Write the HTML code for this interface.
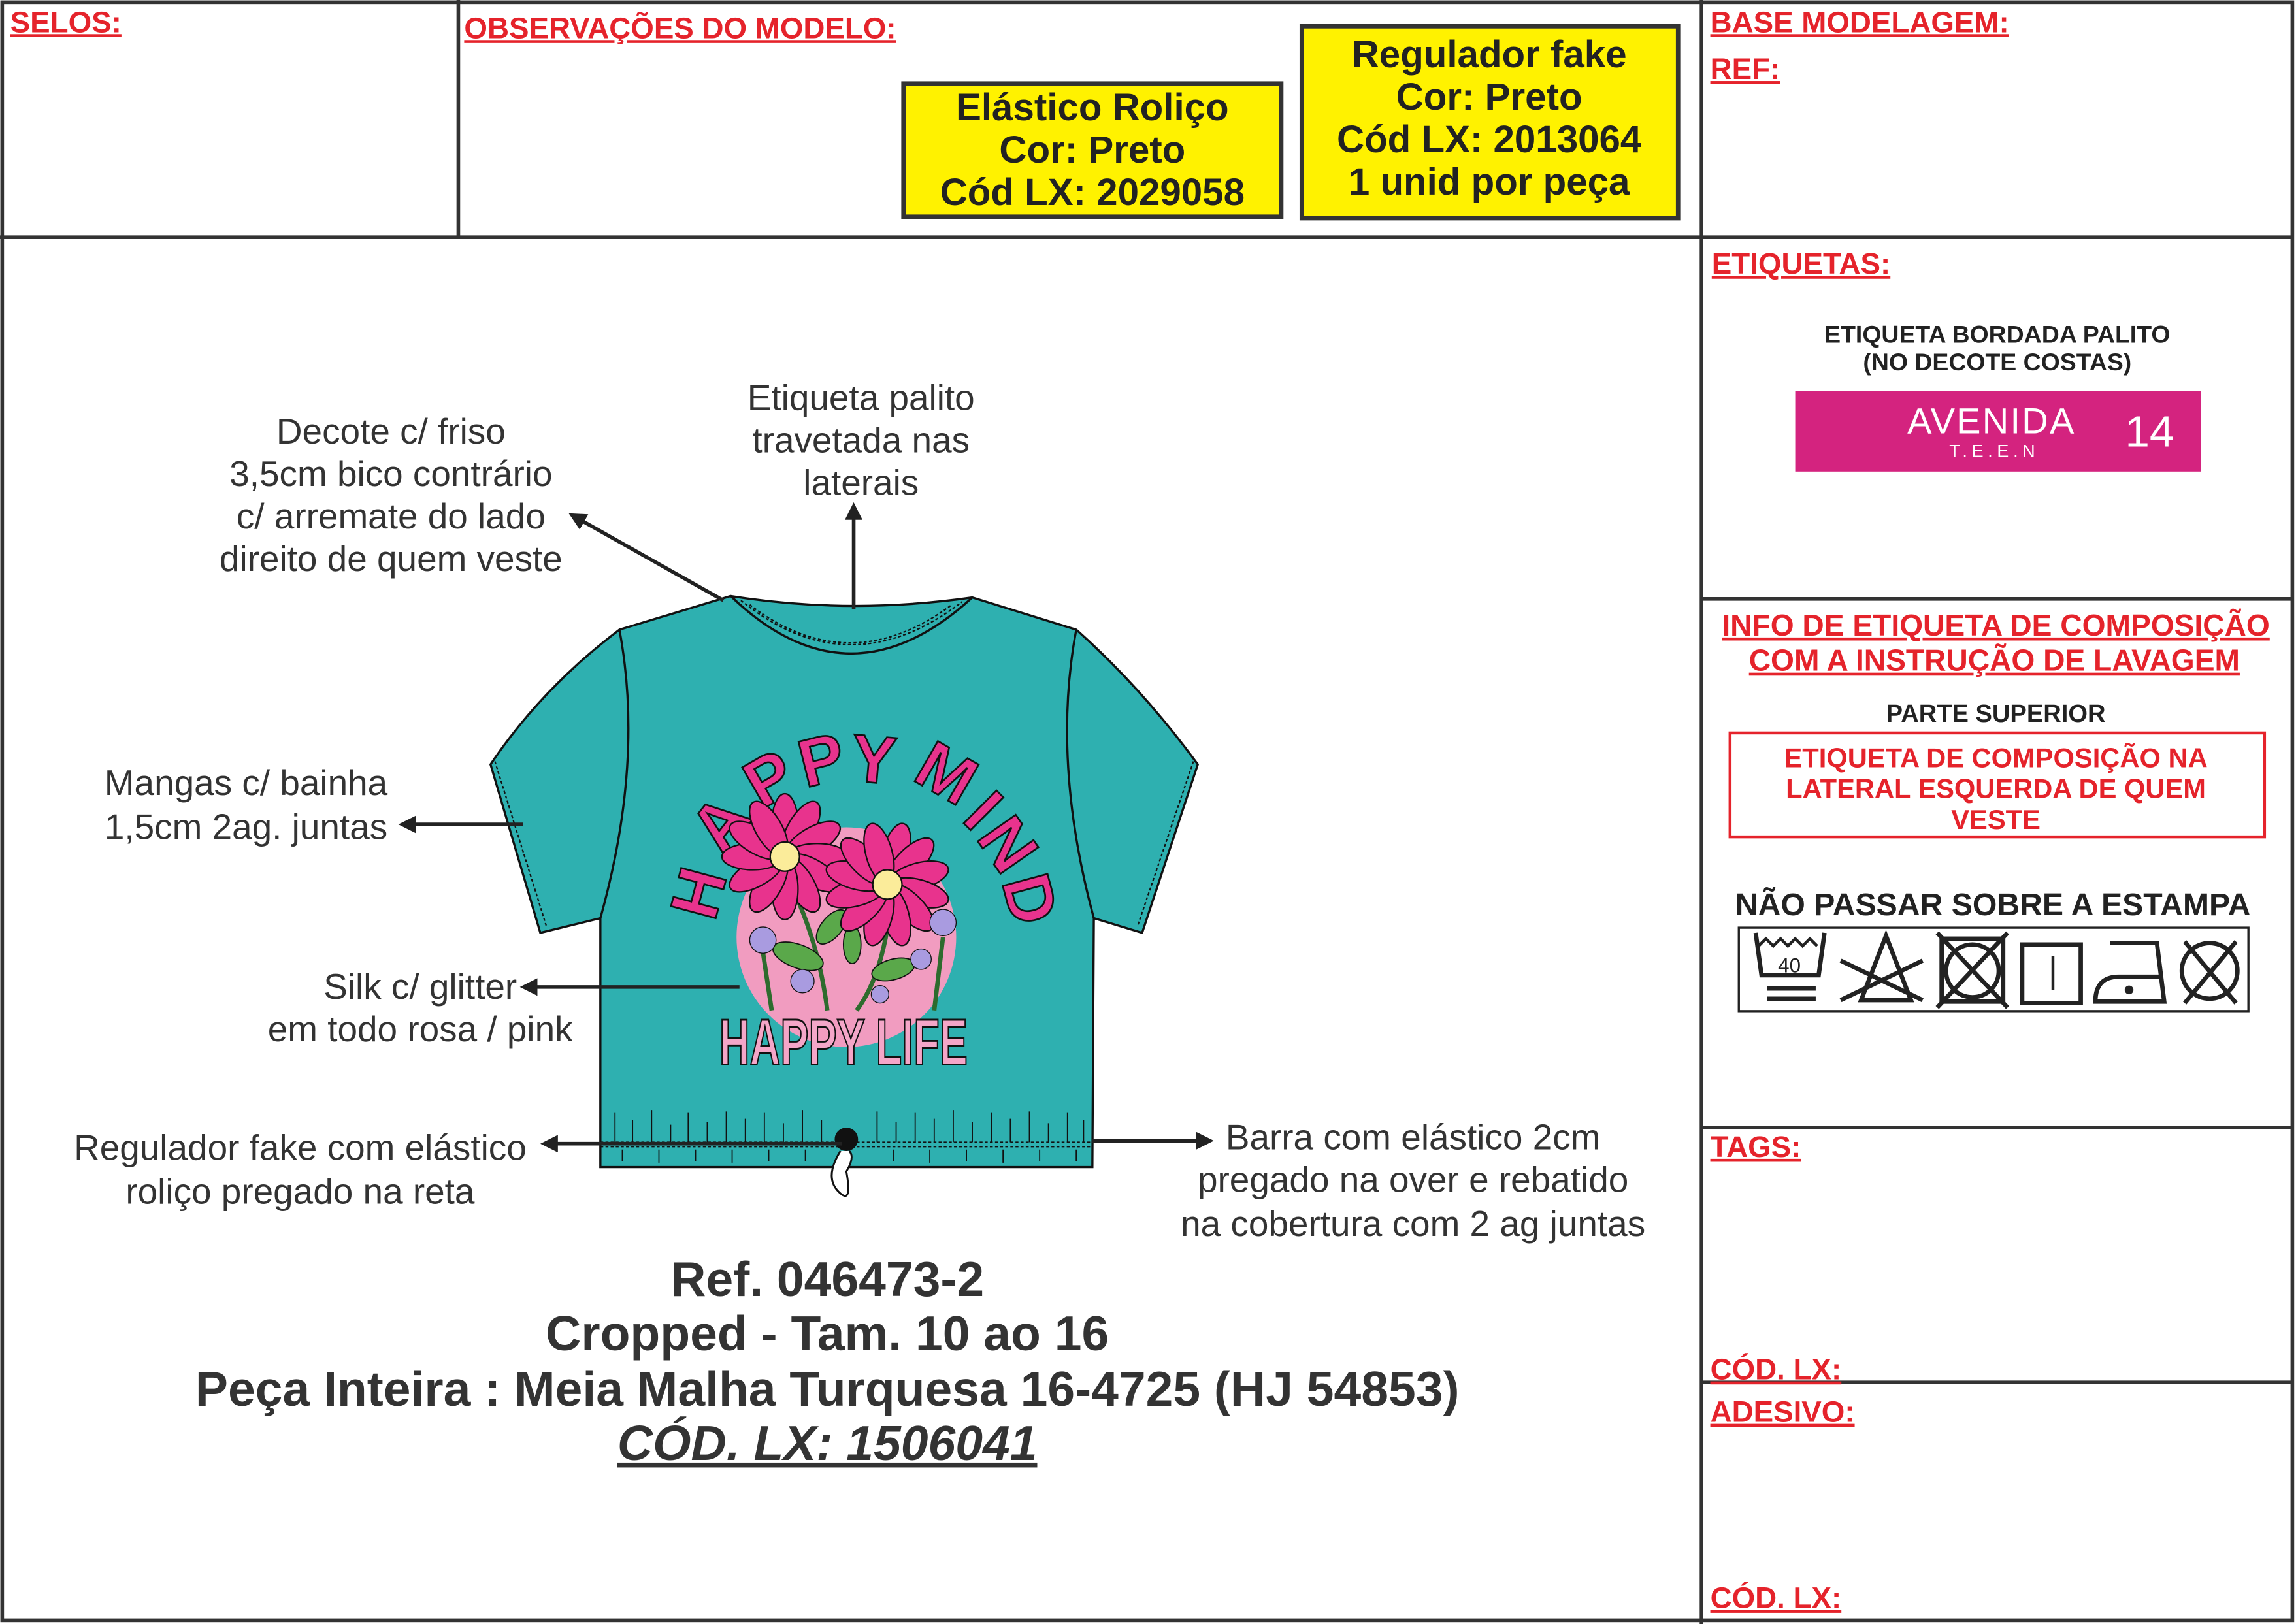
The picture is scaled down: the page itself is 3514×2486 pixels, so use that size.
<!DOCTYPE html>
<html><head><meta charset="utf-8"><style>
html,body{margin:0;padding:0;background:#fff;}
svg{display:block;}
text{font-family:"Liberation Sans",Arial,sans-serif;}
.red{fill:#e5232b;font-weight:bold;font-size:20.4px;text-decoration:underline;}
.ann{fill:#333;font-size:24.5px;}
.yb{fill:#222;font-weight:bold;font-size:26px;}
</style></head><body>
<svg width="3514" height="2486" viewBox="0 0 1568 1109" preserveAspectRatio="none" xmlns="http://www.w3.org/2000/svg">
<defs>
<marker id="ah" markerWidth="12" markerHeight="12" refX="9" refY="6" orient="auto" markerUnits="userSpaceOnUse"><path d="M0,0 L12,6 L0,12 Z" fill="#222"/></marker>
<g id="fl"><ellipse cy="-22" rx="9" ry="21"/></g>
</defs>
<rect x="0" y="0" width="1568" height="1109" fill="#fff"/>
<rect x="1.5" y="1.5" width="1564" height="1105" fill="none" stroke="#333" stroke-width="2.5"/>
<g stroke="#333" stroke-width="2.5">
<line x1="0" y1="162" x2="1566" y2="162"/>
<line x1="313" y1="0" x2="313" y2="162"/>
<line x1="1162" y1="0" x2="1162" y2="1109"/>
<line x1="1162" y1="409" x2="1566" y2="409"/>
<line x1="1162" y1="770" x2="1566" y2="770"/>
<line x1="1162" y1="944" x2="1566" y2="944"/>
</g>
<text class="red" x="7" y="22">SELOS:</text>
<text class="red" x="317" y="26">OBSERVAÇÕES DO MODELO:</text>
<text class="red" x="1168" y="22">BASE MODELAGEM:</text>
<text class="red" x="1168" y="54">REF:</text>
<text class="red" x="1169" y="187">ETIQUETAS:</text>
<text class="red" x="1168" y="790">TAGS:</text>
<text class="red" x="1168" y="942">CÓD. LX:</text>
<text class="red" x="1168" y="971">ADESIVO:</text>
<text class="red" x="1168" y="1098">CÓD. LX:</text>

<rect x="617" y="57" width="258" height="91" fill="#fff200" stroke="#333" stroke-width="3"/>
<text class="yb" text-anchor="middle" x="746" y="82">Elástico Roliço</text>
<text class="yb" text-anchor="middle" x="746" y="111">Cor: Preto</text>
<text class="yb" text-anchor="middle" x="746" y="140">Cód LX: 2029058</text>
<rect x="889" y="18" width="257" height="131" fill="#fff200" stroke="#333" stroke-width="3"/>
<text class="yb" text-anchor="middle" x="1017" y="46">Regulador fake</text>
<text class="yb" text-anchor="middle" x="1017" y="75">Cor: Preto</text>
<text class="yb" text-anchor="middle" x="1017" y="104">Cód LX: 2013064</text>
<text class="yb" text-anchor="middle" x="1017" y="133">1 unid por peça</text>

<text x="1364" y="234" text-anchor="middle" font-size="16.7" font-weight="bold" fill="#222">ETIQUETA BORDADA PALITO</text>
<text x="1364" y="253" text-anchor="middle" font-size="16.7" font-weight="bold" fill="#222">(NO DECOTE COSTAS)</text>
<rect x="1226" y="267" width="277" height="55" fill="#d4237f"/>
<text x="1360" y="296" text-anchor="middle" font-size="25" fill="#fff" letter-spacing="1">AVENIDA</text>
<text x="1362" y="312" text-anchor="middle" font-size="12" fill="#fff" letter-spacing="3">T.E.E.N</text>
<text x="1468" y="305" text-anchor="middle" font-size="30" fill="#fff">14</text>

<text x="1363" y="434" text-anchor="middle" font-size="20.6" font-weight="bold" fill="#e5232b" text-decoration="underline">INFO DE ETIQUETA DE COMPOSIÇÃO</text>
<text x="1362" y="458" text-anchor="middle" font-size="20.6" font-weight="bold" fill="#e5232b" text-decoration="underline">COM A INSTRUÇÃO DE LAVAGEM</text>
<text x="1363" y="493" text-anchor="middle" font-size="17" font-weight="bold" fill="#222">PARTE SUPERIOR</text>
<rect x="1181.5" y="500.5" width="365" height="71" fill="none" stroke="#e5232b" stroke-width="2"/>
<text x="1363" y="524" text-anchor="middle" font-size="18.6" font-weight="bold" fill="#e5232b">ETIQUETA DE COMPOSIÇÃO NA</text>
<text x="1363" y="545" text-anchor="middle" font-size="18.6" font-weight="bold" fill="#e5232b">LATERAL ESQUERDA DE QUEM</text>
<text x="1363" y="566" text-anchor="middle" font-size="18.6" font-weight="bold" fill="#e5232b">VESTE</text>
<text x="1361" y="625" text-anchor="middle" font-size="21.5" font-weight="bold" fill="#222">NÃO PASSAR SOBRE A ESTAMPA</text>
<rect x="1187.5" y="633.5" width="348" height="57" fill="#fff" stroke="#222" stroke-width="1.5"/>
<g stroke="#222" stroke-width="3" fill="none">
<path d="M1199,637 L1203,666 L1242,666 L1246,637"/>
<path d="M1201,646 l5,-5 l5,5 l5,-5 l5,5 l5,-5 l5,5 l5,-5 l5,5" stroke-width="2"/>
<line x1="1207" y1="675" x2="1240" y2="675"/><line x1="1207" y1="682" x2="1240" y2="682"/>
<path d="M1288,639 L1271,683 L1305,683 Z"/>
<line x1="1257" y1="656" x2="1313" y2="683"/><line x1="1313" y1="656" x2="1257" y2="683"/>
<rect x="1326" y="641" width="42" height="43"/><circle cx="1347" cy="663" r="18"/>
<line x1="1323" y1="637" x2="1371" y2="688"/><line x1="1371" y1="637" x2="1323" y2="688"/>
<rect x="1381" y="645" width="40" height="40"/><line x1="1402" y1="653" x2="1402" y2="676" stroke-width="2"/>
<path d="M1441,644 L1473,644 L1478,684 L1431,684 Q1431,667 1447,667 L1476,667"/>
<circle cx="1509" cy="663" r="19"/>
<line x1="1492" y1="643" x2="1527" y2="685"/><line x1="1527" y1="643" x2="1492" y2="685"/>
</g>
<text x="1222" y="664" text-anchor="middle" font-size="14" fill="#222">40</text>
<circle cx="1454" cy="676" r="3" fill="#222"/>

<!-- shirt -->
<g stroke="#111" stroke-width="1.5">
<path d="M499,407 Q580,420 664,408 L735,430 Q780,470 818,522 L780,637 L747,627 L746,797 L410,797 L410,627 L369,637 L335,522 Q370,470 423,430 Z" fill="#2eb0b0"/>
<path d="M423,430 Q440,520 410,627" fill="none"/>
<path d="M735,430 Q718,520 747,627" fill="none"/>
<path d="M499,407 Q580,485 664,408" fill="none"/>
<path d="M506,410 Q580,470 657,411" fill="none" stroke-dasharray="2,1.5" stroke-width="1"/>
<path d="M512,413 Q580,465 650,413" fill="none" stroke-dasharray="2,1.5" stroke-width="1"/>
<path d="M338,520 L373,632" fill="none" stroke-dasharray="2,1.5" stroke-width="1"/>
<path d="M815,520 L777,632" fill="none" stroke-dasharray="2,1.5" stroke-width="1"/>
<line x1="410" y1="780" x2="746" y2="780" stroke-dasharray="2,1.5" stroke-width="1"/>
<line x1="410" y1="783" x2="746" y2="783" stroke-dasharray="2,1.5" stroke-width="1"/>
</g>
<g stroke="#111" stroke-width="0.8">
<path d="M420,760v20M432,765v15M445,758v22M458,768v12M470,760v20M483,766v14M496,759v21M509,764v16M522,760v20M535,767v13M548,758v22M561,765v15M599,759v21M612,766v14M625,760v20M638,764v16M651,758v22M664,766v14M677,760v20M690,764v16M703,759v21M716,767v13M729,760v20M740,765v15"/>
<path d="M425,785v8M450,785v9M475,785v8M500,785v9M525,785v8M550,785v8M610,785v8M635,785v9M660,785v8M685,785v9M710,785v8M735,785v8"/>
</g>
<circle cx="578" cy="640" r="75" fill="#f19cc0"/>
<g font-size="46" font-weight="bold" fill="#e8338d" stroke="#111" stroke-width="1.2">
<text x="488" y="630" transform="rotate(-75 488 630)">H</text>
<text x="494" y="585" transform="rotate(-52 494 585)">A</text>
<text x="520" y="553" transform="rotate(-30 520 553)">P</text>
<text x="550" y="538" transform="rotate(-14 550 538)">P</text>
<text x="580" y="533" transform="rotate(5 580 533)">Y</text>
<text x="622" y="532" transform="rotate(30 622 532)">M</text>
<text x="656" y="560" transform="rotate(45 656 560)">I</text>
<text x="666" y="572" transform="rotate(55 666 572)">N</text>
<text x="684" y="602" transform="rotate(75 684 602)">D</text>
</g>
<g stroke="#2e6b2e" stroke-width="3" fill="none"><path d="M545,615 Q560,650 565,690"/><path d="M606,634 Q600,670 585,690"/><path d="M521,650 L527,690"/><path d="M644,640 L638,690"/></g>
<g fill="#5aa84a" stroke="#111" stroke-width="0.8"><ellipse cx="545" cy="653" rx="18" ry="8" transform="rotate(20 545 653)"/><ellipse cx="568" cy="633" rx="14" ry="7" transform="rotate(-50 568 633)"/><ellipse cx="610" cy="662" rx="15" ry="7" transform="rotate(-15 610 662)"/><ellipse cx="582" cy="645" rx="6" ry="13"/></g>
<g fill="#e8338d" stroke="#111" stroke-width="1">
<g transform="translate(536,585)">
<use href="#fl"/><use href="#fl" transform="rotate(30)"/><use href="#fl" transform="rotate(60)"/><use href="#fl" transform="rotate(90)"/><use href="#fl" transform="rotate(120)"/><use href="#fl" transform="rotate(150)"/><use href="#fl" transform="rotate(180)"/><use href="#fl" transform="rotate(210)"/><use href="#fl" transform="rotate(240)"/><use href="#fl" transform="rotate(270)"/><use href="#fl" transform="rotate(300)"/><use href="#fl" transform="rotate(330)"/>
<circle r="10" fill="#fbec9a"/></g>
<g transform="translate(606,604)">
<use href="#fl" transform="rotate(15)"/><use href="#fl" transform="rotate(45)"/><use href="#fl" transform="rotate(75)"/><use href="#fl" transform="rotate(105)"/><use href="#fl" transform="rotate(135)"/><use href="#fl" transform="rotate(165)"/><use href="#fl" transform="rotate(195)"/><use href="#fl" transform="rotate(225)"/><use href="#fl" transform="rotate(255)"/><use href="#fl" transform="rotate(285)"/><use href="#fl" transform="rotate(315)"/><use href="#fl" transform="rotate(345)"/>
<circle r="10" fill="#fbec9a"/></g>
</g>
<g fill="#a99be0" stroke="#111" stroke-width="0.6"><circle cx="521" cy="642" r="9"/><circle cx="548" cy="670" r="8"/><circle cx="644" cy="630" r="9"/><circle cx="629" cy="655" r="7"/><circle cx="601" cy="679" r="6"/></g>
<text x="0" y="0" text-anchor="middle" font-size="34" font-weight="bold" fill="#f4a6c8" stroke="#111" stroke-width="1" transform="translate(576,727) scale(0.85,1.3)">HAPPY LIFE</text>
<circle cx="578" cy="778" r="8" fill="#111"/>
<path d="M574,786 Q562,805 574,815 Q582,822 578,800 Q584,790 580,786" fill="#fff" stroke="#111" stroke-width="1.3"/>

<!-- annotations -->
<g stroke="#222" stroke-width="2.5" fill="none" marker-end="url(#ah)">
<line x1="494" y1="410" x2="391" y2="352"/>
<line x1="583" y1="416" x2="583" y2="346"/>
<line x1="357" y1="563" x2="275" y2="563"/>
<line x1="505" y1="674" x2="358" y2="674"/>
<line x1="575" y1="781" x2="372" y2="781"/>
<line x1="746" y1="779" x2="826" y2="779"/>
</g>
<g text-anchor="middle">
<text class="ann" x="267" y="303">Decote c/ friso</text>
<text class="ann" x="267" y="332">3,5cm bico contrário</text>
<text class="ann" x="267" y="361">c/ arremate do lado</text>
<text class="ann" x="267" y="390">direito de quem veste</text>
<text class="ann" x="588" y="280">Etiqueta palito</text>
<text class="ann" x="588" y="309">travetada nas</text>
<text class="ann" x="588" y="338">laterais</text>
<text class="ann" x="168" y="543">Mangas c/ bainha</text>
<text class="ann" x="168" y="573">1,5cm 2ag. juntas</text>
<text class="ann" x="287" y="682">Silk c/ glitter</text>
<text class="ann" x="287" y="711">em todo rosa / pink</text>
<text class="ann" x="205" y="792">Regulador fake com elástico</text>
<text class="ann" x="205" y="822">roliço pregado na reta</text>
<text class="ann" x="965" y="785">Barra com elástico 2cm</text>
<text class="ann" x="965" y="814">pregado na over e rebatido</text>
<text class="ann" x="965" y="844">na cobertura com 2 ag juntas</text>
</g>
<g text-anchor="middle" fill="#333" font-weight="bold" font-size="33.5">
<text x="565" y="885">Ref. 046473-2</text>
<text x="565" y="922">Cropped - Tam. 10 ao 16</text>
<text x="565" y="960">Peça Inteira : Meia Malha Turquesa 16-4725 (HJ 54853)</text>
<text x="565" y="997" font-style="italic" text-decoration="underline">CÓD. LX: 1506041</text>
</g>
</svg>
</body></html>
